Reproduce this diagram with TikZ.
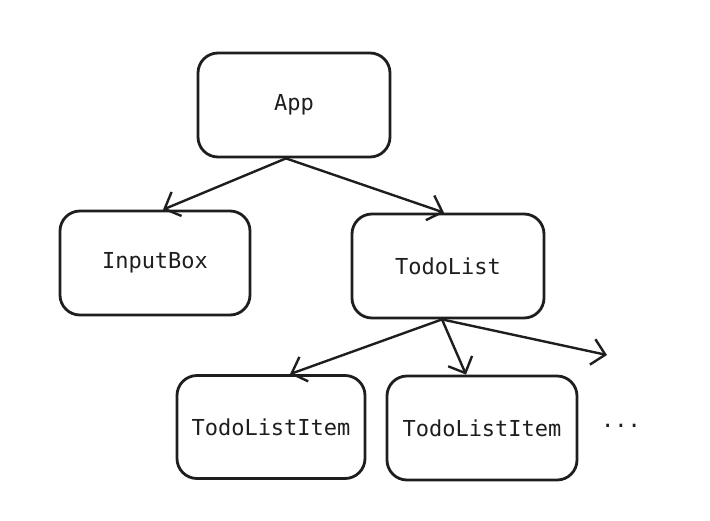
\documentclass[tikz,border=0pt]{standalone}
\usepackage{fontspec}
\setmainfont{DejaVu Sans Mono}
\usetikzlibrary{arrows.meta,positioning}
\definecolor{ink}{HTML}{1E1E1E}

\begin{document}
\begin{tikzpicture}[x=1pt,y=-1pt, color=ink,
    comp/.style = {draw, line width=2.8pt, rounded corners=20pt,
                   inner sep=0pt, font=\fontsize{22}{26}\selectfont},
    link/.style = {line width=2.4pt, line cap=round,
                   -{Straight Barb[length=13pt,width=26pt,line width=2.4pt]}}]
  \useasboundingbox (0,0) rectangle (710,520);
  % components
  \node [comp, minimum width=192pt, minimum height=104pt] (app) at (294,105) {App};
  \node [comp, minimum width=190pt, minimum height=104pt] (input) at (155,263) {InputBox};
  \node [comp, minimum width=192pt, minimum height=104pt] (list) at (448,266) {TodoList};
  \node [comp, minimum width=188pt, minimum height=103pt] (item1) at (271,427) {TodoListItem};
  \node [comp, minimum width=190pt, minimum height=104pt] (item2) at (482,428) {TodoListItem};
  \node [font=\fontsize{22}{26}\selectfont] (more) at (621,426) {...};
  \coordinate (free) at (607,355);
  % edges
  \draw [link] (app.south) ++(-8,0) coordinate (appout) -- (input.north -| 163,0);
  \draw [link] (appout) -- (list.north -| 444,0);
  \draw [link] (list.south) ++(-6,0) coordinate (listout) -- (item1.north -| 290,0);
  \draw [link] (listout) -- (item2.north -| 466,0);
  \draw [link] (listout) -- (free);
\end{tikzpicture}
\end{document}
